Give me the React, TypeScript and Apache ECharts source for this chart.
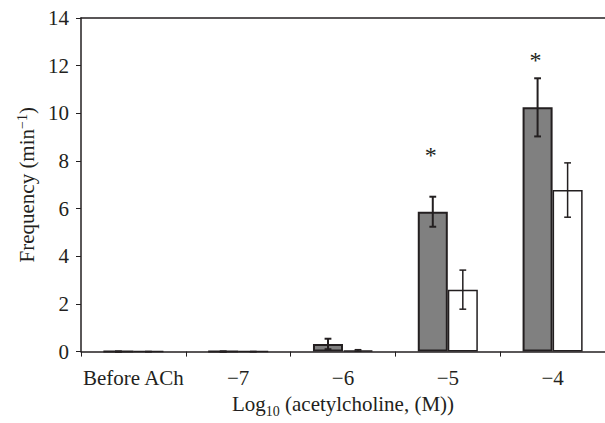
import React, { useEffect, useRef } from "react";
import * as echarts from "echarts";

const categories = ["Before ACh", "\u22127", "\u22126", "\u22125", "\u22124"];
const grayValues = [0, 0, 0.32, 5.87, 10.25];
const grayErrors = [0, 0, 0.22, 0.63, 1.22];
const whiteValues = [0, 0, 0.05, 2.6, 6.78];
const whiteErrors = [0, 0, 0.03, 0.82, 1.14];
const starPoints = [
  [3, 8.25],
  [4, 12.25],
];
const yTicks = { min: 0, max: 14, interval: 2 };

const FONT = "'Liberation Serif', 'Times New Roman', serif";
const INK = "#231f20";
const GAP = 0.427;

function errorSeries(values: number[], errors: number[], side: number, lw: number) {
  return {
    type: "custom",
    xAxisIndex: 0,
    yAxisIndex: 0,
    z: 10,
    silent: true,
    data: values.map((v, i) => [i, v, errors[i]]),
    renderItem: (params: any, api: any) => {
      const cat = api.value(0);
      const val = api.value(1);
      const err = api.value(2);
      const catW = api.size([1, 0])[0];
      const barW = (catW * (1 - GAP)) / 2;
      const x = api.coord([cat, val])[0] + (side * barW) / 2;
      const yTop = api.coord([cat, val + err])[1];
      const yBot = api.coord([cat, Math.max(0, val - err)])[1];
      const cap = 3.4;
      const style = { stroke: INK, lineWidth: lw };
      return {
        type: "group",
        children: [
          { type: "line", shape: { x1: x, y1: yTop, x2: x, y2: yBot }, style },
          { type: "line", shape: { x1: x - cap, y1: yTop, x2: x + cap, y2: yTop }, style },
          { type: "line", shape: { x1: x - cap, y1: yBot, x2: x + cap, y2: yBot }, style },
        ],
      };
    },
  };
}

export default function App() {
  const ref = useRef<HTMLDivElement>(null);
  useEffect(() => {
    if (!ref.current) return;
    const chart = echarts.init(ref.current, null, { renderer: "svg" });
    chart.setOption({
      animation: false,
      backgroundColor: "#ffffff",
      textStyle: { fontFamily: FONT, color: INK },
      grid: { left: 81, right: 0, top: 18, bottom: 66, containLabel: false },
      xAxis: [
        {
          type: "category",
          data: categories,
          position: "bottom",
          axisLine: { show: true, lineStyle: { color: INK, width: 1.5 } },
          axisTick: { show: true, length: 5, alignWithLabel: false, lineStyle: { color: INK, width: 1 } },
          axisLabel: { fontFamily: FONT, fontSize: 21, color: INK, margin: 16, interval: 0 },
          name: "{m|Log}{s|10}{m| (acetylcholine, (M))}",
          nameLocation: "middle",
          nameGap: 37,
          nameTextStyle: {
            fontFamily: FONT,
            color: INK,
            rich: {
              m: { fontFamily: FONT, fontSize: 21, color: INK, lineHeight: 22 },
              s: { fontFamily: FONT, fontSize: 14, color: INK, lineHeight: 14, verticalAlign: "bottom", padding: [0, 0, -3, 0] },
            },
          },
        },
        {
          type: "category",
          data: categories,
          position: "top",
          axisLine: { show: true, lineStyle: { color: INK, width: 1.5 } },
          axisTick: { show: false },
          axisLabel: { show: false },
        },
      ],
      yAxis: {
        type: "value",
        min: yTicks.min,
        max: yTicks.max,
        interval: yTicks.interval,
        splitLine: { show: false },
        axisLine: { show: true, lineStyle: { color: INK, width: 1.5 } },
        axisTick: { show: true, length: 5, lineStyle: { color: INK, width: 1 } },
        axisLabel: { fontFamily: FONT, fontSize: 21, color: INK, margin: 12 },
        name: "{m|Frequency (min}{s|\u22121}{m|)}",
        nameLocation: "middle",
        nameGap: 37,
        nameTextStyle: {
          fontFamily: FONT,
          color: INK,
          rich: {
            m: { fontFamily: FONT, fontSize: 21, color: INK, lineHeight: 22 },
            s: { fontFamily: FONT, fontSize: 14, color: INK, lineHeight: 14, verticalAlign: "top" },
          },
        },
      },
      series: [
        {
          type: "bar",
          data: grayValues,
          barGap: "0%",
          barCategoryGap: GAP * 100 + "%",
          itemStyle: { color: "#808080", borderColor: INK, borderWidth: 2 },
          z: 2,
        },
        {
          type: "bar",
          data: whiteValues,
          barGap: "0%",
          barCategoryGap: GAP * 100 + "%",
          itemStyle: { color: "#ffffff", borderColor: INK, borderWidth: 1.5 },
          z: 2,
        },
        errorSeries(grayValues, grayErrors, -1, 2),
        errorSeries(whiteValues, whiteErrors, 1, 1.5),
        {
          type: "custom",
          z: 11,
          silent: true,
          data: starPoints,
          renderItem: (params: any, api: any) => {
            const catW = api.size([1, 0])[0];
            const barW = (catW * (1 - GAP)) / 2;
            const p = api.coord([api.value(0), api.value(1)]);
            return {
              type: "text",
              x: p[0] - barW / 2 - 2,
              y: p[1],
              style: {
                text: "*",
                fontFamily: FONT,
                fontSize: 24,
                fill: INK,
                align: "center",
                verticalAlign: "middle",
              },
            };
          },
        },
      ],
    });
    return () => chart.dispose();
  }, []);
  return (
    <div
      ref={ref}
      style={{ position: "fixed", left: 0, top: 0, width: 605, height: 423, background: "#fff" }}
    />
  );
}
